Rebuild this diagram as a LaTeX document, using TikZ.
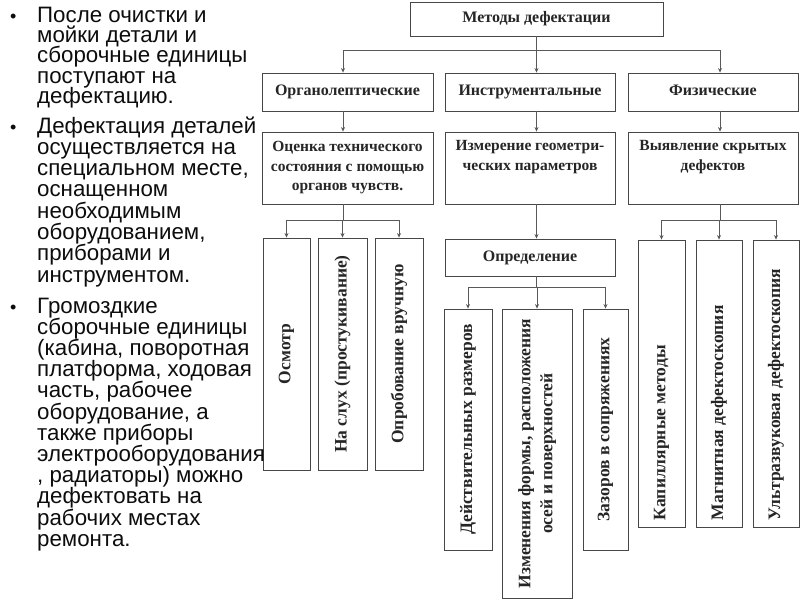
\documentclass[tikz,border=0pt]{standalone}
\usepackage{fontspec}
\setmainfont{Liberation Serif}
\newfontfamily\leftfont{Liberation Sans}
\usetikzlibrary{arrows.meta,shadows}
\begin{document}
\begin{tikzpicture}[x=1pt,y=-1pt,
  box/.style={draw=black!72, line width=0.9pt, fill=white, inner sep=0pt, align=center,
    font=\bfseries\fontsize{16}{19}\selectfont, text=black!85,
    drop shadow={shadow xshift=1.3pt, shadow yshift=-1.3pt, fill=black!40, opacity=0.8}},
  rbox/.style={box, font=\bfseries\fontsize{17.5}{19}\selectfont},
  mbox/.style={box, font=\bfseries\fontsize{15.5}{19.5}\selectfont},
  conn/.style={draw=black!65, line width=0.6pt},
  arr/.style={conn, -{Stealth[length=4.5pt,width=4pt]}},
  lt/.style={anchor=base west, font=\leftfont\fontsize{22.3}{20}\selectfont, text=black!95,
    inner sep=0pt, text height=15pt, text depth=4pt},
  bul/.style={anchor=base west, font=\leftfont\fontsize{18}{20}\selectfont, text=black!95,
    inner sep=0pt, text height=10pt, text depth=0pt},
]
\useasboundingbox (0,0) rectangle (800,600);
\fill[white] (0,0) rectangle (800,600);

% level 1
\node[box, minimum width=253pt, minimum height=34pt] (top) at (536.5,19) {Методы дефектации\strut};
% level 2
\node[box, minimum width=171pt, minimum height=38pt] (l2a) at (347.5,92) {Органолептические\strut};
\node[box, minimum width=170pt, minimum height=38pt] (l2b) at (530,92) {Инструментальные\strut};
\node[box, minimum width=170pt, minimum height=38pt] (l2c) at (713,92) {Физические\strut};
% level 3
\node[mbox, minimum width=171pt, minimum height=72pt] (l3a) at (347.5,168) {Оценка технического\\состояния с помощью\\органов чувств.};
\node[mbox, minimum width=170pt, minimum height=72pt] (l3b) at (530,168) {Измерение геометри-\\ческих параметров\\\strut};
\node[mbox, minimum width=170pt, minimum height=72pt] (l3c) at (713,168) {Выявление скрытых\\дефектов\\\strut};
% level 4 left
\node[rbox, minimum width=47pt, minimum height=232pt] (osm) at (286.5,354) {\rotatebox{90}{\makebox[220pt]{Осмотр}}};
\node[rbox, minimum width=49pt, minimum height=232pt] (slux) at (342.5,354) {\rotatebox{90}{\makebox[220pt]{На слух (простукивание)}}};
\node[rbox, minimum width=48pt, minimum height=232pt] (prob) at (399,354) {\rotatebox{90}{\makebox[220pt]{Опробование вручную}}};
% middle
\node[box, minimum width=170pt, minimum height=37pt] (opr) at (530,257.5) {Определение\strut};
\node[rbox, minimum width=48pt, minimum height=241pt] (deyst) at (468,429.5) {\rotatebox{90}{Действительных размеров}};
\node[rbox, minimum width=70pt, minimum height=289pt] (izm) at (537,453.5) {\rotatebox{90}{\def\arraystretch{1.15}\begin{tabular}{@{}c@{}}Изменения формы, расположения\\осей и поверхностей\end{tabular}}};
\node[rbox, minimum width=45pt, minimum height=241pt] (zaz) at (605.5,429.5) {\rotatebox{90}{Зазоров в сопряжениях}};
% right
\node[rbox, minimum width=47pt, minimum height=287pt] (kap) at (661.5,383.5) {\rotatebox{90}{\makebox[273pt][l]{Капиллярные методы}}};
\node[rbox, minimum width=46pt, minimum height=287pt] (magn) at (719,383.5) {\rotatebox{90}{\makebox[273pt][l]{Магнитная дефектоскопия}}};
\node[rbox, minimum width=46pt, minimum height=287pt] (ultra) at (776,383.5) {\rotatebox{90}{\makebox[273pt][l]{Ультразвуковая дефектоскопия}}};

% connectors top
\coordinate (t1) at (536.5,50);
\coordinate (ta) at (343,50);
\coordinate (tc) at (720,50);
\draw[conn] (top.south) -- (t1);
\draw[conn] (ta) -- (tc);
\draw[arr] (ta) -- (ta |- l2a.north);
\draw[arr] (t1) -- (t1 |- l2b.north);
\draw[arr] (tc) -- (tc |- l2c.north);
\draw[arr] (ta |- l2a.south) -- (ta |- l3a.north);
\draw[arr] (t1 |- l2b.south) -- (t1 |- l3b.north);
\draw[arr] (tc |- l2c.south) -- (tc |- l3c.north);
% left group
\coordinate (ba) at (343,220);
\draw[conn] (ta |- l3a.south) -- (ba);
\draw[conn] (osm.north |- ba) -- (prob.north |- ba);
\foreach \n in {osm,slux,prob} \draw[arr] (\n.north |- ba) -- (\n.north);
% middle group
\draw[arr] (t1 |- l3b.south) -- (t1 |- opr.north);
\coordinate (bb) at (536.5,287);
\draw[conn] (t1 |- opr.south) -- (bb);
\draw[conn] (deyst.north |- bb) -- (zaz.north |- bb);
\foreach \n in {deyst,izm,zaz} \draw[arr] (\n.north |- bb) -- (\n.north);
% right group
\coordinate (bc) at (720,220);
\draw[conn] (tc |- l3c.south) -- (bc);
\draw[conn] (kap.north |- bc) -- (ultra.north |- bc);
\foreach \n in {kap,magn,ultra} \draw[arr] (\n.north |- bc) -- (\n.north);

% left text
\node[bul] (b1) at (10,22) {•};
\foreach \t [count=\i from 0] in {{После очистки и},{мойки детали и},{сборочные единицы},{поступают на},{дефектацию.}}
  \node[lt] (pa\i) at (37,22+20.4*\i) {\t};
\node[bul] (b2) at (10,133) {•};
\foreach \t [count=\i from 0] in {{Дефектация деталей},{осуществляется на},{специальном месте,},{оснащенном},{необходимым},{оборудованием,},{приборами и},{инструментом.}}
  \node[lt] (pb\i) at (37,133+21.3*\i) {\t};
\node[bul] (b3) at (10,313) {•};
\foreach \t [count=\i from 0] in {{Громоздкие},{сборочные единицы},{(кабина, поворотная},{платформа, ходовая},{часть, рабочее},{оборудование, а},{также приборы},{электрооборудования},{, радиаторы) можно},{дефектовать на},{рабочих местах},{ремонта.}}
  \node[lt] (pc\i) at (37,313+21.2*\i) {\t};
\end{tikzpicture}
\end{document}
